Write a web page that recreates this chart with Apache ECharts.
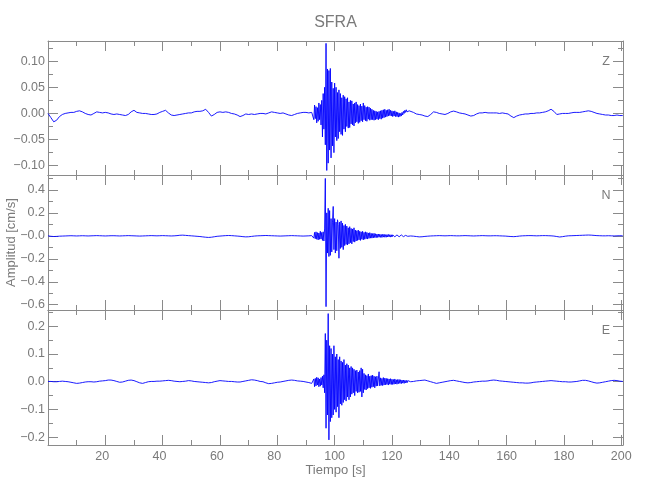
<!DOCTYPE html>
<html><head><meta charset="utf-8">
<script src="https://cdn.jsdelivr.net/npm/echarts@6/dist/echarts.min.js"></script>
<style>html,body{margin:0;padding:0;background:#fff}#c{width:650px;height:500px}</style>
</head><body><div id="c"></div>
<script>
const preTime = [0,1,2,3,4,5,6,7,8,9,10,11,12,13,14,15,16,17,18,19,20,21,22,23,24,25,26,27,28,29,30,31,32,33,34,35,36,37,38,39,40,41,42,43,44,45,46,47,48,49,50,51,52,53,54,55,56,57,58,59,60,61,62,63,64,65,66,67,68,69,70,71,72,73,74,75,76,77,78,79,80,81,82,83,84,85,86,87,88,89,90,91,92];
const burstTime = [92.5,92.75,93,93.25,93.5,93.75,94,94.25,94.5,94.75,
95,95.25,95.5,95.75,96,96.25,96.5,96.75,97,97.25,
97.5,97.75,98,98.25,98.5,98.75,99,99.25,99.5,99.75,
100,100.25,100.5,100.75,101,101.25,101.5,101.75,102,102.25,
102.5,102.75,103,103.25,103.5,103.75,104,104.25,104.5,104.75,
105,105.25,105.5,105.75,106,106.25,106.5,106.75,107,107.25,
107.5,107.75,108,108.25,108.5,108.75,109,109.25,109.5,109.75,
110,110.25,110.5,110.75,111,111.25,111.5,111.75,112,112.25,
112.5,112.75,113,113.25,113.5,113.75,114,114.25,114.5,114.75,
115,115.25,115.5,115.75,116,116.25,116.5,116.75,117,117.25,
117.5,117.75,118,118.25,118.5,118.75,119,119.25,119.5,119.75,
120,120.25,120.5,120.75,121,121.25,121.5,121.75,122,122.25,
122.5,122.75,123,123.25,123.5,123.75,124,124.25,124.5,124.75,
125,125.25,125.5,125.75,126];
const postTime = [126.5,127.5,128.5,129.5,130.5,131.5,132.5,133.5,134.5,135.5,136.5,137.5,138.5,139.5,140.5,141.5,142.5,143.5,144.5,145.5,146.5,147.5,148.5,149.5,150.5,151.5,152.5,153.5,154.5,155.5,156.5,157.5,158.5,159.5,160.5,161.5,162.5,163.5,164.5,165.5,166.5,167.5,168.5,169.5,170.5,171.5,172.5,173.5,174.5,175.5,176.5,177.5,178.5,179.5,180.5,181.5,182.5,183.5,184.5,185.5,186.5,187.5,188.5,189.5,190.5,191.5,192.5,193.5,194.5,195.5,196.5,197.5,198.5,199.5,200.5];

const zPre = [0.000,-0.008,-0.016,-0.013,-0.006,-0.002,0.000,0.001,0.002,0.002,
0.004,0.005,0.003,0.000,-0.002,-0.003,0.000,0.003,0.002,0.001,
0.002,0.001,-0.001,-0.002,-0.001,-0.002,-0.003,-0.004,-0.002,0.003,
0.006,0.002,0.001,0.000,0.000,-0.001,-0.002,-0.002,-0.001,0.002,
0.004,0.006,0.001,-0.003,-0.004,-0.003,-0.002,-0.001,0.000,0.001,
0.001,0.003,0.004,0.004,0.005,0.008,0.002,-0.005,-0.002,0.002,
0.003,0.002,0.003,0.002,0.000,-0.001,-0.003,-0.006,-0.004,-0.001,
-0.002,-0.001,-0.002,-0.001,0.000,0.000,-0.001,0.001,0.003,0.002,
0.001,0.000,0.001,-0.001,-0.003,-0.004,-0.002,0.000,0.001,0.002,
0.002,0.001,0.002];
const zBurst = [0.004,-0.012,0.016,-0.010,0.013,-0.018,0.011,-0.015,0.020,-0.012,
0.017,-0.022,0.025,-0.045,0.038,-0.030,0.050,-0.060,0.134,-0.109,
0.085,-0.095,0.082,-0.070,0.086,-0.085,0.060,-0.062,0.048,-0.075,
0.058,-0.045,0.050,-0.052,0.040,-0.048,0.045,-0.035,0.038,-0.040,
0.030,-0.042,0.035,-0.030,0.032,-0.035,0.028,-0.025,0.030,-0.028,
0.022,-0.027,0.025,-0.020,0.024,-0.022,0.018,-0.024,0.020,-0.018,
0.022,-0.016,0.017,-0.019,0.015,-0.017,0.018,-0.014,0.014,-0.016,
0.020,-0.012,0.015,-0.014,0.012,-0.015,0.013,-0.011,0.012,-0.013,
0.010,-0.012,0.008,-0.012,0.006,-0.013,0.005,-0.012,0.004,-0.011,
0.003,-0.012,0.004,-0.010,0.005,-0.011,0.006,-0.009,0.007,-0.008,
0.008,-0.007,0.006,-0.006,0.007,-0.005,0.008,-0.004,0.006,-0.005,
0.005,-0.006,0.004,-0.005,0.005,-0.006,0.003,-0.006,0.002,-0.007,
0.001,-0.006,0.000,-0.005,0.002,-0.003,0.004,0.000,0.006,0.002,
0.007,0.003,0.006,0.002,0.005];
const zPost = [0.004,0.002,-0.001,-0.002,-0.003,-0.005,-0.006,-0.002,0.003,0.002,
0.000,-0.001,-0.002,0.000,0.003,0.0045,0.003,0.001,0.000,-0.001,
-0.003,-0.005,-0.004,-0.001,0.001,0.001,0.002,0.001,0.001,0.001,
0.001,0.000,0.001,0.000,-0.001,-0.005,-0.008,-0.005,-0.003,-0.002,
-0.001,-0.001,0.000,0.000,0.001,0.001,0.002,0.003,0.005,0.008,
0.004,-0.002,-0.001,0.000,0.000,0.000,0.001,0.002,0.002,0.002,
0.003,0.004,0.005,0.004,0.002,0.000,-0.001,-0.002,-0.003,-0.003,
-0.004,-0.004,-0.003,-0.004,-0.004];

const nPre = [0.000,-0.004,-0.006,-0.005,-0.003,-0.002,-0.001,0.000,0.001,0.000,
-0.001,0.000,0.001,0.000,-0.001,0.000,0.001,0.002,0.001,0.000,
-0.001,0.000,0.001,0.001,0.000,-0.001,0.000,0.001,0.002,0.001,
0.000,-0.001,-0.002,-0.001,0.000,0.001,0.002,0.001,0.000,0.001,
0.002,0.001,0.000,-0.001,0.000,0.002,0.005,0.006,0.004,0.002,
0.000,-0.002,-0.004,-0.006,-0.009,-0.012,-0.014,-0.012,-0.008,-0.004,
-0.002,0.000,0.002,0.003,0.002,0.000,-0.002,-0.004,-0.007,-0.009,
-0.008,-0.005,-0.002,0.000,0.001,0.002,0.003,0.002,0.001,0.000,
-0.001,-0.002,-0.001,0.000,0.001,0.002,0.001,0.000,-0.001,-0.002,
-0.001,0.000,0.002];
const nBurst = [0.002,-0.020,0.030,-0.025,0.035,-0.030,0.028,-0.035,0.025,-0.030,
0.040,-0.028,0.030,-0.040,0.035,-0.045,0.060,0.500,-0.617,0.200,
-0.150,0.240,-0.180,0.220,-0.170,0.150,-0.140,0.120,0.256,-0.120,
0.150,-0.150,0.120,-0.130,0.140,0.100,-0.195,0.120,-0.110,0.130,
-0.100,0.110,-0.120,0.090,-0.085,0.100,-0.075,0.085,-0.080,0.070,
-0.070,0.080,-0.060,0.065,-0.070,0.060,-0.050,0.070,-0.055,0.050,
-0.045,0.045,-0.040,0.050,-0.035,0.040,-0.040,0.035,-0.030,0.040,
-0.035,0.030,-0.030,0.035,-0.025,0.030,-0.028,0.025,-0.022,0.028,
-0.020,0.022,-0.020,0.020,-0.018,0.022,-0.015,0.018,-0.016,0.015,
-0.014,0.016,-0.012,0.014,-0.013,0.012,-0.014,0.013,-0.011,0.014,
-0.012,0.010,-0.012,0.011,-0.010,0.012,-0.009,0.010,-0.011,0.009,
-0.010,0.008,-0.009,0.010,-0.008,0.007,-0.009,0.008,-0.007,0.009,
-0.008,0.006,-0.007,0.008,-0.006,0.005,-0.007,0.006,-0.005,0.004,
-0.006,0.005,-0.004,0.003,-0.002];
const nPost = [-0.001,-0.003,-0.006,-0.009,-0.008,-0.005,-0.003,-0.001,0.000,0.001,
0.002,0.001,0.000,0.001,0.002,0.001,0.000,0.000,0.001,0.002,
0.001,0.000,-0.001,0.000,0.001,0.002,0.001,0.000,0.000,0.001,
0.001,0.000,-0.001,-0.002,-0.004,-0.006,-0.007,-0.005,-0.002,0.000,
0.001,0.002,0.002,0.001,0.000,0.001,0.002,0.002,0.001,0.000,
-0.002,-0.006,-0.010,-0.007,-0.003,0.000,0.001,0.002,0.003,0.004,
0.005,0.006,0.007,0.006,0.004,0.002,0.001,0.000,0.000,0.001,
0.000,-0.001,0.000,0.001,0.000];

const ePre = [0.001,0.001,0.000,0.000,0.001,0.002,0.001,0.000,-0.002,-0.004,
-0.006,-0.005,-0.003,-0.001,0.000,0.000,-0.001,0.000,0.002,0.003,
0.004,0.006,0.006,0.004,0.001,-0.002,-0.001,0.002,0.005,0.006,
0.004,0.000,-0.004,-0.006,-0.003,0.000,0.001,0.001,0.002,0.002,
0.003,0.004,0.005,0.004,0.002,0.001,0.000,0.001,0.002,0.004,
0.003,0.001,0.000,-0.001,-0.002,-0.003,-0.004,-0.003,0.000,0.002,
0.004,0.003,0.002,0.001,0.001,0.000,-0.001,-0.001,0.001,0.003,
0.005,0.007,0.006,0.004,0.001,0.000,-0.004,-0.007,-0.006,-0.004,
-0.002,-0.001,0.001,0.003,0.005,0.006,0.005,0.003,0.002,0.001,
-0.001,-0.003,-0.006];
const eBurst = [-0.008,0.010,-0.018,0.012,-0.015,0.016,-0.012,0.014,-0.018,0.010,
-0.016,0.015,-0.012,0.020,-0.022,0.025,-0.040,0.174,-0.168,0.150,
-0.120,0.246,-0.210,0.130,-0.144,0.120,-0.130,0.100,-0.120,0.130,
-0.100,0.090,-0.110,0.100,-0.090,0.080,-0.130,0.090,-0.080,0.075,
-0.085,0.070,-0.075,0.080,-0.065,0.060,-0.070,0.065,-0.055,0.060,
-0.065,0.050,-0.055,0.055,-0.045,0.050,-0.040,0.045,-0.050,0.040,
-0.035,0.042,-0.040,0.035,-0.038,0.040,-0.035,0.050,-0.055,0.045,
-0.040,0.030,-0.028,0.025,-0.030,0.022,-0.025,0.028,-0.022,0.020,
-0.024,0.022,-0.020,0.024,-0.018,0.020,-0.022,0.018,-0.016,0.020,
-0.015,-0.012,0.036,-0.015,0.014,-0.013,0.012,-0.014,0.015,-0.012,
0.013,-0.011,0.012,-0.010,0.011,-0.012,0.010,-0.009,0.011,-0.010,
0.009,-0.010,0.008,-0.009,0.010,-0.008,0.007,-0.009,0.008,-0.007,
0.008,-0.006,0.007,-0.007,0.006,-0.005,0.006,-0.006,0.005,-0.004,
0.005,-0.004,0.004,-0.003,0.001];
const ePost = [0.000,0.001,0.003,0.004,0.005,0.006,0.003,0.000,-0.003,-0.006,
-0.004,-0.002,0.000,0.002,0.004,0.005,0.003,0.001,-0.001,-0.003,
-0.004,-0.003,-0.001,0.000,0.001,0.002,0.002,0.003,0.005,0.006,
0.005,0.003,0.002,0.001,0.000,-0.001,-0.002,-0.003,-0.004,-0.004,
-0.005,-0.005,-0.004,-0.002,-0.001,0.000,0.001,0.002,0.003,0.004,
0.003,0.002,0.001,0.000,0.000,-0.001,-0.001,0.000,0.001,0.003,
0.005,0.005,0.003,0.000,-0.003,-0.005,-0.004,-0.002,0.000,0.002,
0.004,0.005,0.004,0.002,0.001];

const componentNames = ['Z', 'N', 'E'];
const chartTitle = 'SFRA';
const xName = 'Tiempo [s]';
const yName = 'Amplitud [cm/s]';

function trace(pre, burst, post) {
  const out = [];
  preTime.forEach((t, i) => out.push([t, pre[i]]));
  burstTime.forEach((t, i) => out.push([t, burst[i]]));
  postTime.forEach((t, i) => out.push([t, post[i]]));
  return out;
}
const traces = [trace(zPre, zBurst, zPost), trace(nPre, nBurst, nPost), trace(ePre, eBurst, ePost)];

const FONT = '"Liberation Sans",Arial,sans-serif';
const LINE = '#8a8a8a';
const TXT = '#7a7a7a';
const panels = [
  {top: 41, height: 134, min: -0.1177, max: 0.1385, split: 5, step: 0.05, dec: 2, zeroTxt: '0.00'},
  {top: 175, height: 135, min: -0.646, max: 0.530, split: 6, step: 0.2, dec: 1, zeroTxt: '\u22120.0'},
  {top: 310, height: 135, min: -0.2285, max: 0.259, split: 5, step: 0.1, dec: 1, zeroTxt: '0.0'}
];
const isMult = (v, s) => Math.abs(v / s - Math.round(v / s)) < 1e-6;
const fmtNum = (v, d) => (v < 0 ? '\u2212' : '') + Math.abs(v).toFixed(d);

const grids = [], xAxes = [], yAxes = [], series = [];
panels.forEach((p, i) => {
  grids.push({left: 48, right: 27, top: p.top, height: p.height, containLabel: false, outerBoundsMode: 'none'});
  const tickCommon = {
    axisLine: {show: true, onZero: false, lineStyle: {color: LINE, width: 1}},
    axisTick: {show: true, inside: true, length: 10, lineStyle: {color: LINE, width: 1}},
    minorTick: {show: true, splitNumber: 2, length: 5, lineStyle: {color: LINE, width: 1}},
    splitLine: {show: false}, minorSplitLine: {show: false}
  };
  const isLast = i === panels.length - 1;
  xAxes.push(Object.assign({
    type: 'value', gridIndex: i, position: 'bottom', min: 0, max: 200.6, splitNumber: 10,
    name: isLast ? xName : '', nameLocation: 'middle', nameGap: 17,
    nameTextStyle: {color: TXT, fontSize: 13, fontFamily: FONT},
    axisLabel: {show: isLast, color: TXT, fontSize: 12.5, fontFamily: FONT, margin: 5,
      formatter: v => (v > 0 && isMult(v, 20)) ? (Math.round(v) < 100 ? Math.round(v) + '\u2002' : String(Math.round(v))) : ''}
  }, tickCommon));
  xAxes.push(Object.assign({
    type: 'value', gridIndex: i, position: 'top', min: 0, max: 200.6, splitNumber: 10,
    axisLabel: {show: false}
  }, tickCommon));
  yAxes.push(Object.assign({
    type: 'value', gridIndex: i, position: 'left', min: p.min, max: p.max, splitNumber: p.split,
    name: i === 1 ? yName : '', nameLocation: 'middle', nameGap: 30, nameRotate: 90,
    nameMoveOverlap: false,
    nameTextStyle: {color: TXT, fontSize: 13, fontFamily: FONT},
    axisLabel: {show: true, color: TXT, fontSize: 12.5, fontFamily: FONT, margin: 3,
      formatter: v => !isMult(v, p.step) ? '' : (Math.abs(v) < 1e-9 ? p.zeroTxt : fmtNum(v, p.dec))}
  }, tickCommon));
  yAxes.push(Object.assign({
    type: 'value', gridIndex: i, position: 'right', min: p.min, max: p.max, splitNumber: p.split,
    axisLabel: {show: false}
  }, tickCommon));
  series.push({
    type: 'line', xAxisIndex: 2 * i, yAxisIndex: 2 * i, data: traces[i],
    showSymbol: false, symbol: 'none', sampling: null, clip: true,
    lineStyle: {color: '#0000ff', width: 0.9}, z: 1
  });
});

const graphics = [{type: 'text', x: 335.5, y: 23, style: {text: chartTitle, fill: TXT, font: '16px ' + FONT, align: 'center', verticalAlign: 'middle'}}];
componentNames.forEach((c, i) => {
  graphics.push({type: 'text', x: 606, y: panels[i].top + 21, style: {text: c, fill: TXT, font: '12.5px ' + FONT, align: 'center', verticalAlign: 'middle'}});
});

const chart = echarts.init(document.getElementById('c'), null, {renderer: 'canvas'});
chart.setOption({
  animation: false,
  backgroundColor: '#ffffff',
  grid: grids, xAxis: xAxes, yAxis: yAxes, series: series,
  graphic: graphics
});
</script></body></html>
